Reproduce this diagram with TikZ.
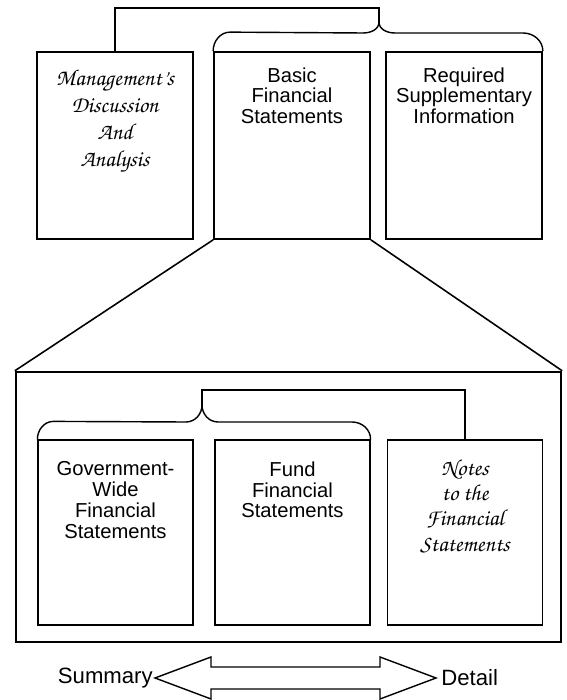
\documentclass[tikz,border=0pt]{standalone}
\usepackage[T1]{fontenc}
\usepackage{fontspec}
\setmainfont{Liberation Sans}
\usepackage{tikz}
\usetikzlibrary{shapes,arrows}
\newcommand{\chancery}{\fontencoding{T1}\fontfamily{pzc}\fontseries{mb}\fontshape{it}\selectfont}

\begin{document}
\begin{tikzpicture}[x=0.02cm, y=0.02cm,
  topbox/.style={draw, line width=1pt, minimum width=3.12cm, minimum height=3.74cm, inner sep=0pt},
  innerbox/.style={draw, line width=0.7pt, minimum width=3.1cm, minimum height=3.7cm, inner sep=0pt},
  bigbox/.style={draw, line width=1.4pt, minimum width=10.9cm, minimum height=5.4cm, inner sep=0pt},
  brk/.style={line width=0.8pt},
  plain/.style={align=center, inner sep=0pt, anchor=north, font=\fontsize{11.5}{11.8}\selectfont},
  fancy/.style={align=center, inner sep=0pt, anchor=north, font=\fontsize{13}{15.4}\chancery},
  side/.style={inner sep=0pt, font=\fontsize{12.6}{14}\selectfont}]
\fill[white] (0,0) rectangle (566,700);

\node[topbox] (mda) at (115,554.5) {};
\node[topbox] (bfs) at (292,554.5) {};
\node[topbox] (rsi) at (464,554.5) {};
\node[fancy] (mdatext) at ([yshift=-0.36cm]mda.north) {Management's\\Discussion\\And\\Analysis};
\node[plain] (bfstext) at ([yshift=-0.32cm]bfs.north) {Basic\\Financial\\Statements};
\node[plain] (rsitext) at ([yshift=-0.32cm]rsi.north) {Required\\Supplementary\\Information};

\coordinate (topbar) at (379,692);
\coordinate (toptip) at (379,678);
\draw[brk] (mda.north) |- (topbar) -- (toptip);
\draw[brk] (bfs.north west) to[out=90,in=180] ++(17,19) -- (363,667) to[out=0,in=-90] (toptip);
\draw[brk] (toptip) to[out=-90,in=180] (395,667) -- (523,667) to[out=0,in=90] (rsi.north east);

\node[bigbox] (big) at (288.5,193) {};
\draw[line width=0.9pt] (bfs.south west) -- (big.north west);
\draw[line width=0.9pt] (bfs.south east) -- (big.north east);

\node[innerbox] (gov) at (115.5,167.5) {};
\node[innerbox] (fund) at (292.5,167.5) {};
\node[innerbox] (notes) at (465,167.5) {};
\node[plain] (govtext) at ([yshift=-0.44cm]gov.north) {Government-\\Wide\\Financial\\Statements};
\node[plain] (fundtext) at ([yshift=-0.44cm]fund.north) {Fund\\Financial\\Statements};
\node[fancy, font=\fontsize{13}{14.5}\chancery] (notestext) at ([yshift=-0.38cm]notes.north) {Notes\\to the\\Financial\\Statements};

\coordinate (inbar) at (202,310);
\coordinate (intip) at (202,295);
\draw[brk] (notes.north) |- (inbar) -- (intip);
\draw[brk] (gov.north west) to[out=90,in=180] ++(16,18) -- (186,278) to[out=0,in=-90] (intip);
\draw[brk] (intip) to[out=-90,in=180] (218,278) -- (352,278) to[out=0,in=90] (fund.north east);

\coordinate (ltip) at (155,22);
\coordinate (rtip) at (436,22);
\draw[line width=0.8pt, line join=miter] (ltip) -- (211,43) -- (211,33) -- (380,33) -- (380,43) -- (rtip)
  -- (380,1) -- (380,11) -- (211,11) -- (211,1) -- cycle;
\node[side, anchor=east] (summary) at ([xshift=-0.04cm]ltip) {Summary};
\node[side, anchor=west] (detail) at ([xshift=0.1cm]rtip) {Detail};
\end{tikzpicture}
\end{document}
